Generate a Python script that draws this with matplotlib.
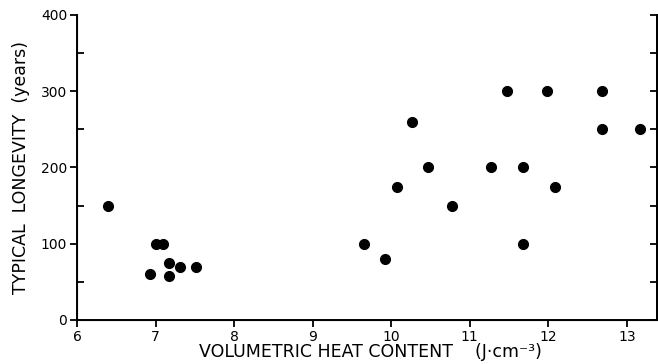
import numpy as np
import matplotlib.pyplot as plt
from matplotlib.ticker import MultipleLocator

# volumetric heat content (J/cm3) vs typical longevity (years)
heat = [6.4, 7.0, 7.1, 7.17, 7.31, 7.51, 6.93, 7.17,
        9.66, 9.92, 10.08, 10.27, 10.47, 10.78, 11.27, 11.48,
        11.68, 11.68, 11.98, 12.08, 12.68, 12.68, 13.17]
longevity = [150, 100, 100, 75, 70, 70, 60, 58,
             100, 80, 175, 260, 200, 150, 200, 300,
             200, 100, 300, 175, 300, 250, 250]

xticks = [6, 7, 8, 9, 10, 11, 12, 13]
yticks = [0, 100, 200, 300, 400]

fig = plt.figure(figsize=(6.58, 3.64), dpi=100)
ax = fig.add_axes([0.117, 0.121, 0.881, 0.838])

ax.plot(heat, longevity, 'o', color='black', ms=7, mec='black')

ax.set_xlim(6, 13.38)
ax.set_ylim(0, 400)
ax.set_xticks(xticks)
ax.set_yticks(yticks)
ax.yaxis.set_minor_locator(MultipleLocator(50))

ax.spines['top'].set_visible(False)
for s in ['left', 'bottom', 'right']:
    ax.spines[s].set_linewidth(1.4)

ax.tick_params(axis='both', which='major', direction='out', length=5, width=1.3,
               labelsize=10, pad=2)
ax.tick_params(axis='y', which='minor', direction='in', length=5, width=1.3)

# right side: inward ticks every 50, no labels
ax2 = ax.twinx()
ax2.set_ylim(0, 400)
ax2.yaxis.set_major_locator(MultipleLocator(50))
ax2.tick_params(axis='y', direction='in', length=5, width=1.3, labelright=False)
ax2.spines['top'].set_visible(False)
ax2.spines['right'].set_linewidth(1.4)

fig.text(0.563, 0.033, 'VOLUMETRIC HEAT CONTENT    (J·cm⁻³)', fontsize=12.5,
         ha='center', va='center')
ax.set_ylabel('TYPICAL  LONGEVITY  (years)', fontsize=12.5, labelpad=8)

fig.savefig('out.png', dpi=100)
